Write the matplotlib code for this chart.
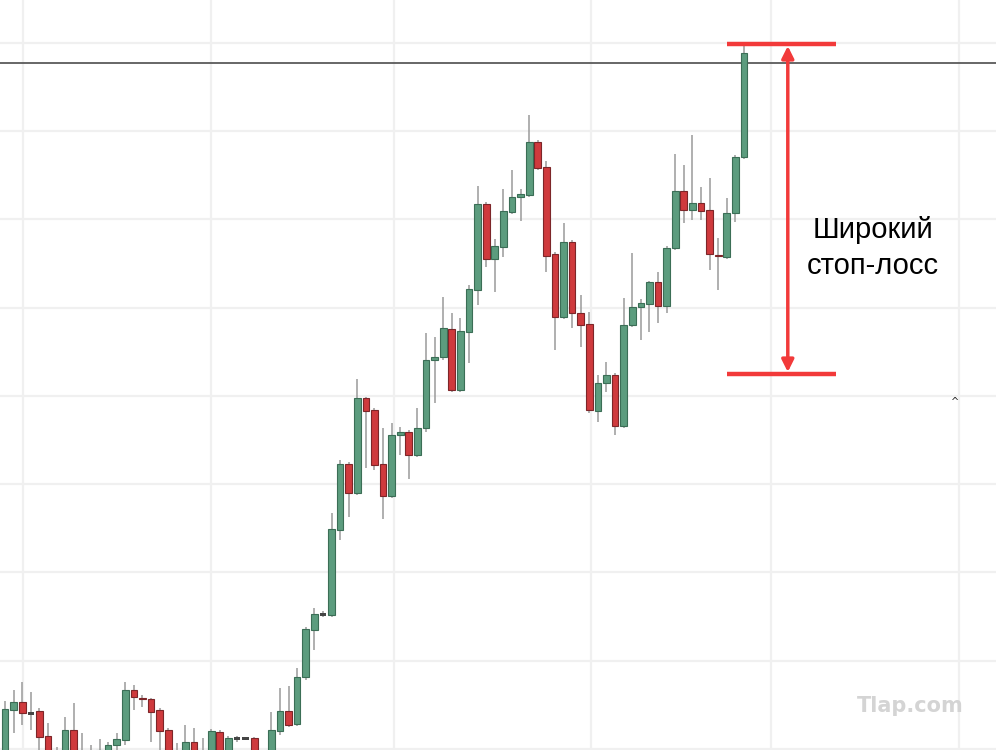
import matplotlib.pyplot as plt

# candle prices (open, high, low, close), oldest first
opens = [-10, 40, 48, 37, 39, 14, -8, -10, 20, -2, -12, -8, -2, 5, 10, 60, 52, 51, 40, 20,
         -3, -5, 8, -12, -5, 18, -5, 12, 12, 12, -8, -10, 19, 39, 26, 73, 120, 136, 135, 220,
         286, 257, 352, 340, 286, 254, 315, 318, 295, 322, 390, 393, 421, 360, 418, 460, 546, 491, 503, 538,
         553, 555, 608, 583, 496, 433, 508, 437, 426, 339, 367, 375, 324, 425, 443, 446, 468, 444, 502, 559,
         540, 547, 540, 495, 493, 537, 593]
closes = [41, 48, 37, 37, 13, -5, -14, 20, -10, -12, -5, 0, 5, 11, 60, 53, 51, 38, 19, -5,
          -12, 8, -5, -4, 19, -5, 12, 12, 12, -5, -20, 20, 39, 25, 73, 121, 136, 136, 221, 286,
          257, 352, 339, 285, 254, 315, 318, 295, 322, 390, 393, 422, 360, 419, 461, 546, 491, 504, 539, 553,
          556, 608, 582, 494, 433, 508, 437, 425, 340, 367, 375, 324, 425, 443, 447, 468, 444, 502, 559, 540,
          547, 539, 496, 494, 537, 593, 697]
highs = [49, 60, 68, 58, 42, 27, 3, 33, 47, 17, 5, 11, 8, 17, 68, 65, 55, 52, 42, 22,
         7, 25, 22, 12, 21, 20, 14, 14, 13, 13, -5, 38, 62, 64, 82, 123, 142, 139, 237, 290,
         288, 371, 353, 342, 322, 327, 323, 320, 342, 417, 413, 453, 437, 432, 465, 564, 548, 511, 561, 580,
         561, 635, 610, 589, 498, 527, 510, 455, 438, 375, 388, 377, 452, 497, 451, 469, 478, 504, 596, 585,
         615, 563, 572, 512, 552, 595, 705]
lows = [-15, 17, 25, 20, -5, -12, -20, -15, -15, -18, -15, -12, -8, 0, 5, 40, 43, 8, -10, -12,
        -18, -10, -10, -20, -10, -12, -10, 8, 10, -12, -25, -15, 15, 23, 24, 70, 100, 133, 133, 210,
        233, 255, 282, 280, 231, 252, 295, 271, 293, 318, 347, 390, 358, 358, 387, 445, 483, 458, 493, 536,
        529, 553, 580, 478, 400, 431, 422, 403, 337, 328, 358, 315, 322, 423, 410, 418, 427, 437, 500, 527,
        530, 530, 480, 460, 491, 528, 591]

resistance = 687
stop_top = 706
stop_bottom = 376

green = "#5c9c7e"
green_edge = "#3b6e56"
red = "#cf3a3d"
red_edge = "#7d2629"

fig = plt.figure(figsize=(9.96, 7.5), dpi=100)
ax = fig.add_axes([0, 0, 1, 1])

# light grid
for gx in [2.1, 24.0, 45.3, 68.2, 89.1, 111.0]:
    ax.axvline(gx, color="#f0f0f0", lw=1.6, zorder=0)
for k in range(9):
    ax.axhline(1 + 88.3 * k, color="#f0f0f0", lw=1.6, zorder=0)

ax.axhline(resistance, color="#5a5a5a", lw=1.3, zorder=1)

for i in range(len(opens)):
    o, c = opens[i], closes[i]
    ax.vlines(i, lows[i], highs[i], color="#9a9a9a", lw=1.1, zorder=2)
    if abs(c - o) < 1:
        ax.bar(i, 3, bottom=o - 1.5, width=0.75, color="#454545", zorder=3)
    elif c > o:
        ax.bar(i, c - o, bottom=o, width=0.78, color=green, edgecolor=green_edge, lw=0.8, zorder=3)
    else:
        ax.bar(i, o - c, bottom=c, width=0.78, color=red, edgecolor=red_edge, lw=0.8, zorder=3)

# wide stop-loss marker
ax.hlines([stop_top, stop_bottom], 84.0, 96.7, color="#f23a3a", lw=3.2, zorder=4)
ax.annotate("", xy=(91.1, stop_top - 2), xytext=(91.1, stop_bottom + 2),
            arrowprops=dict(arrowstyle="<|-|>", color="#f23a3a", lw=2.5,
                            mutation_scale=18, shrinkA=0, shrinkB=0), zorder=4)
ax.text(101.0, 502, "Широкий\nстоп-лосс", ha="center", va="center", fontsize=21,
        family="Liberation Sans", linespacing=1.38)

ax.text(110.6, 348, "^", ha="center", va="center", fontsize=7, color="#222222")
ax.text(105.3, 44, "Tlap.com", ha="center", va="center", fontsize=15, fontweight="bold",
        color="#d4d4d4")

ax.set_xlim(-0.58, 115.33)
ax.set_ylim(0, 750)
ax.axis("off")

fig.savefig("out.png", dpi=100, facecolor="white")
